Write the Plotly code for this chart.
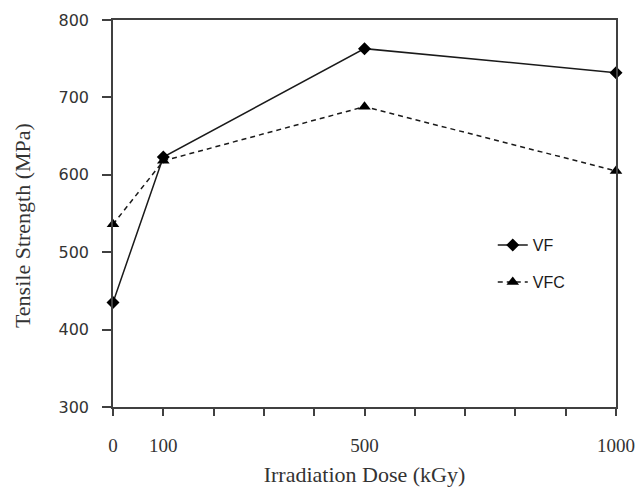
import plotly.graph_objects as go

dose = [0, 100, 500, 1000]
vf = [435, 623, 763, 732]
vfc = [536, 618, 688, 605]
tick_vals = [0, 100, 500, 1000]
tick_text = ["0", "100", "500", "1000"]

ink = "#1a1a1a"
axis_col = "#404040"

fig = go.Figure()
fig.add_trace(go.Scatter(
    x=dose, y=vf, name="VF", mode="lines+markers", legendgroup="a",
    line=dict(color=ink, width=1.5),
    marker=dict(symbol="diamond", size=10, color="black"),
    cliponaxis=False,
))
fig.add_trace(go.Scatter(
    x=dose, y=vfc, name="VFC", mode="lines+markers", legendgroup="b",
    line=dict(color=ink, width=1.5, dash="5px,4px"),
    marker=dict(symbol="triangle-up", size=11, color="black"),
    cliponaxis=False,
))

fig.update_layout(
    width=638, height=487,
    margin=dict(l=113, r=22, t=20, b=80),
    plot_bgcolor="white", paper_bgcolor="white",
    showlegend=True,
    legend=dict(x=0.755, y=0.462, xanchor="left", yanchor="top",
                font=dict(family="Liberation Sans, Arial", size=16, color=ink),
                tracegroupgap=13, bgcolor="rgba(0,0,0,0)"),
    xaxis=dict(
        range=[0, 1000], tickmode="array",
        tickvals=list(range(0, 1001, 100)),
        ticktext=[tick_text[tick_vals.index(v)] if v in tick_vals else "" for v in range(0, 1001, 100)],
        ticks="outside", ticklen=7, tickwidth=1.5, tickcolor=axis_col,
        ticklabelstandoff=13,
        showline=True, linecolor=axis_col, linewidth=1.5, mirror=True,
        showgrid=False, zeroline=False, automargin=False,
        tickfont=dict(family="Liberation Serif, DejaVu Serif", size=19, color="#333333"),
        title=dict(text="Irradiation Dose (kGy)", standoff=12,
                   font=dict(family="Liberation Serif, DejaVu Serif", size=22, color="#333333")),
    ),
    yaxis=dict(
        range=[300, 800], dtick=100, tick0=300,
        ticks="outside", ticklen=9, tickwidth=1.5, tickcolor=axis_col,
        ticklabelstandoff=10,
        showline=True, linecolor=axis_col, linewidth=1.5, mirror=True,
        showgrid=False, zeroline=False, automargin=False,
        tickfont=dict(family="DejaVu Sans, Liberation Sans", size=16, color="#333333"),
    ),
    annotations=[dict(
        text="Tensile Strength (MPa)", xref="paper", yref="paper",
        x=-0.181, y=0.47, xanchor="center", yanchor="middle",
        textangle=-90, showarrow=False,
        font=dict(family="Liberation Serif, DejaVu Serif", size=22, color="#333333"),
    )],
)

fig.write_html("out.html")
